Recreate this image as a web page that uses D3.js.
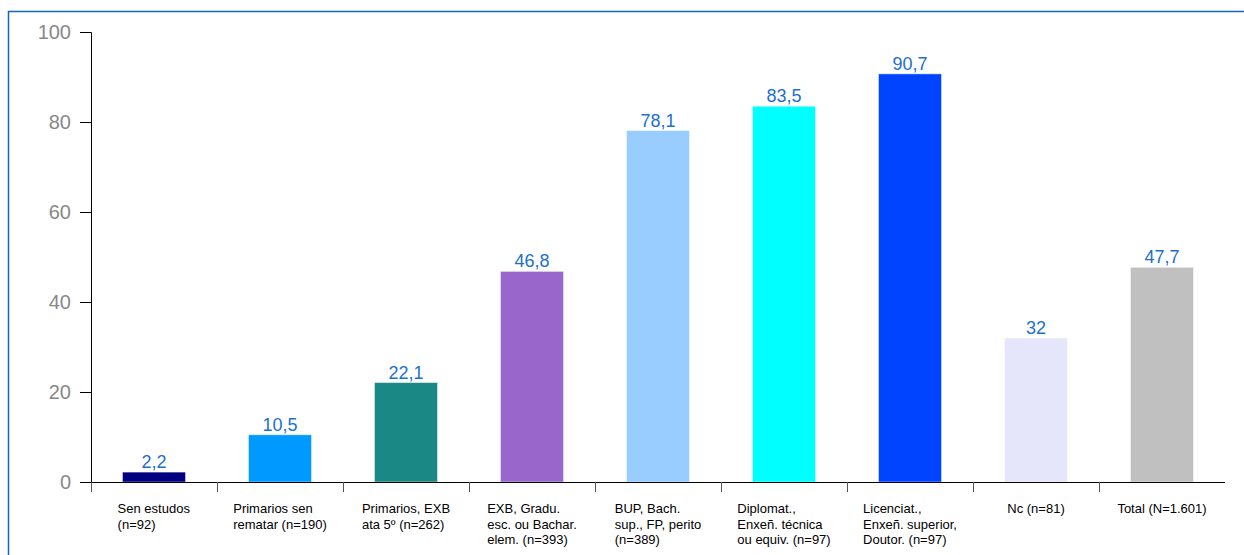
<!DOCTYPE html>
<html>
<head>
<meta charset="utf-8">
<title>Estudos</title>
<script src="https://d3js.org/d3.v7.min.js"></script>
<style>
  body { margin: 0; background: #fff; }
  svg { display: block; font-family: "Liberation Sans", Arial, sans-serif; }
  .ytick text { fill: #888; font-size: 20px; }
  .val { fill: #1c6fd0; font-size: 18px; }
  .cat { fill: #000; font-size: 13px; }
</style>
</head>
<body>
<div id="chart"></div>
<script>
// categories (each label is a list of lines)
var categories = [
  ["Sen estudos", "(n=92)"],
  ["Primarios sen", "rematar (n=190)"],
  ["Primarios, EXB", "ata 5º (n=262)"],
  ["EXB, Gradu.", "esc. ou Bachar.", "elem. (n=393)"],
  ["BUP, Bach.", "sup., FP, perito", "(n=389)"],
  ["Diplomat.,", "Enxeñ. técnica", "ou equiv. (n=97)"],
  ["Licenciat.,", "Enxeñ. superior,", "Doutor. (n=97)"],
  ["Nc (n=81)"],
  ["Total (N=1.601)"]
];
var values = [2.2, 10.5, 22.1, 46.8, 78.1, 83.5, 90.7, 32, 47.7];
var valueLabels = ["2,2", "10,5", "22,1", "46,8", "78,1", "83,5", "90,7", "32", "47,7"];
var colors = ["#000080", "#0099ff", "#1a8985", "#9966cc", "#99ccff", "#00ffff", "#0044ff", "#e6e6fa", "#c0c0c0"];
var yTicks = [0, 20, 40, 60, 80, 100];

var W = 1244, H = 555;
var svg = d3.select("#chart").append("svg")
  .attr("width", W).attr("height", H);

// outer frame
svg.append("rect")
  .attr("x", 8.5).attr("y", 11.5)
  .attr("width", 1260).attr("height", 560)
  .attr("fill", "none").attr("stroke", "#1565c0").attr("stroke-width", 1.5);

var x = d3.scaleBand()
  .domain(d3.range(categories.length))
  .range([91, 1225])
  .paddingInner(0.5).paddingOuter(0.25);

var y = d3.scaleLinear().domain([0, 100]).range([482, 32]);

// y axis
var yAxis = svg.append("g").attr("transform", "translate(91,0)")
  .call(d3.axisLeft(y).tickValues(yTicks).tickSize(11).tickPadding(9));
yAxis.attr("class", "ytick");
yAxis.select(".domain").attr("stroke", "#000").attr("d", "M-11,32.5H0.5V482.5");
yAxis.selectAll(".tick line").attr("stroke", "#000");
yAxis.selectAll("text").attr("fill", "#888").style("font-size", "20px");

// bars
svg.selectAll(".bar").data(values).enter().append("rect")
  .attr("class", "bar")
  .attr("x", function(d, i) { return x(i); })
  .attr("y", function(d) { return y(d); })
  .attr("width", x.bandwidth())
  .attr("height", function(d) { return y(0) - y(d); })
  .attr("fill", function(d, i) { return colors[i]; })
  .attr("stroke", "rgba(255,255,255,0.45)")
  .attr("stroke-width", 1);

// value labels
svg.selectAll(".val").data(values).enter().append("text")
  .attr("class", "val")
  .attr("text-anchor", "middle")
  .attr("x", function(d, i) { return x(i) + x.bandwidth() / 2; })
  .attr("y", function(d) { return y(d) - 4; })
  .text(function(d, i) { return valueLabels[i]; });

// x axis line and category ticks
svg.append("line")
  .attr("x1", 91).attr("x2", 1225)
  .attr("y1", 482.5).attr("y2", 482.5)
  .attr("stroke", "#000");
var tickPos = d3.range(categories.length).map(function(i) { return x(i) - x.bandwidth() / 2; });
svg.selectAll(".xt").data(tickPos).enter().append("line")
  .attr("class", "xt")
  .attr("x1", function(d) { return Math.round(d) + 0.5; })
  .attr("x2", function(d) { return Math.round(d) + 0.5; })
  .attr("y1", 482).attr("y2", 492)
  .attr("stroke", "#555");

// category labels: block centred in band, lines left-aligned
categories.forEach(function(lines, i) {
  var t = svg.append("text").attr("class", "cat").attr("y", 513);
  lines.forEach(function(l, j) {
    t.append("tspan").attr("x", 0).attr("dy", j === 0 ? 0 : 15.5).text(l);
  });
  var w = t.node().getBBox().width;
  var cx = x(i) + x.bandwidth() / 2;
  t.attr("transform", "translate(" + (cx - w / 2) + ",0)");
});
</script>
</body>
</html>
